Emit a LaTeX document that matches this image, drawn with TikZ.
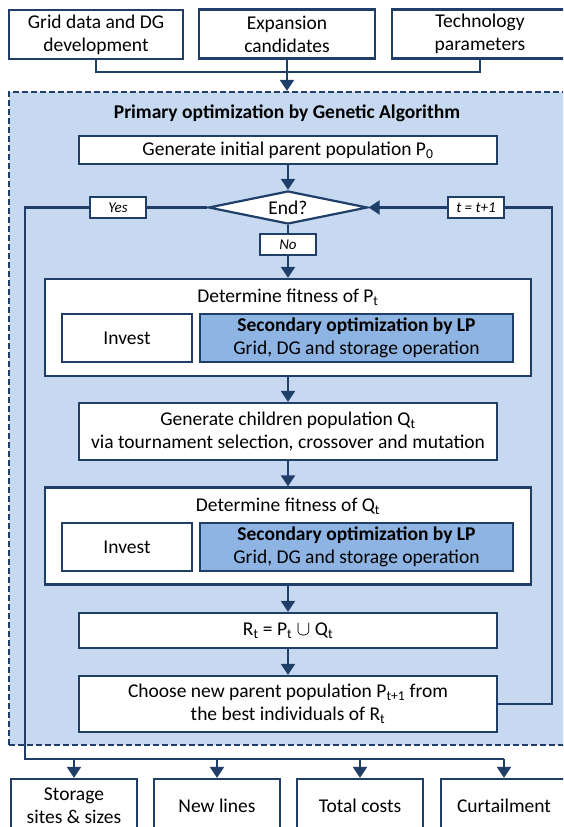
\documentclass[tikz,border=0pt]{standalone}
\usepackage{fontspec}
\setmainfont{Carlito}
\usetikzlibrary{arrows.meta,shapes.geometric}
\definecolor{dblue}{HTML}{1F3F68}
\definecolor{lblue}{HTML}{C6D9F1}
\definecolor{mblue}{HTML}{8DB4E2}
\begin{document}
\begin{tikzpicture}[x=1pt,y=-1pt,
    box/.style={draw=dblue,line width=2.2pt,fill=white,inner sep=0pt,align=center,
      font=\fontsize{19.5}{23}\selectfont},
    lbl/.style={draw=dblue,line width=2.2pt,fill=white,minimum width=56pt,
      minimum height=21pt,inner sep=0pt,font=\fontsize{15}{17}\selectfont\itshape},
    txt/.style={inner sep=0pt,font=\fontsize{19.5}{23}\selectfont},
    ln/.style={draw=dblue,line width=2.2pt},
    arr/.style={ln,-{Triangle[width=14pt,length=11pt]}}]
  \clip (0,0) rectangle (563,827);
  % inputs
  \node[box,minimum width=174pt,minimum height=49pt] (grid) at (96,34.5) {Grid data and DG\\development};
  \node[box,minimum width=176pt,minimum height=49pt] (cand) at (287,34) {Expansion\\candidates};
  \node[box,minimum width=176pt,minimum height=49pt] (tech) at (480,34) {Technology\\parameters};
  % genetic algorithm frame
  \node[draw=dblue,line width=2.2pt,dash pattern=on 6pt off 3pt,fill=lblue,
    minimum width=556pt,minimum height=653pt,inner sep=0pt] (ga) at (287,418.5) {};
  \node[txt,font=\fontsize{19.5}{23}\selectfont\bfseries] (title) at (287,113) {Primary optimization by Genetic Algorithm};
  \node[box,minimum width=418pt,minimum height=28pt] (init) at (288,150) {Generate initial parent population P\textsubscript{0}};
  \node[draw=dblue,line width=2.2pt,fill=white,diamond,aspect=4.8,inner sep=0pt,
    minimum width=159pt,minimum height=33pt,font=\fontsize{19.5}{23}\selectfont] (end) at (288,207.5) {End?};
  \node[lbl] (yes) at (118,207.5) {Yes};
  \node[lbl] (inc) at (476,207.5) {t = t+1};
  \node[lbl] (no) at (288,244.5) {No};
  % fitness of P
  \node[box,minimum width=486pt,minimum height=97pt] (fitp) at (288,327.5) {};
  \node[txt] (fitpt) at (288,297) {Determine fitness of P\textsubscript{t}};
  \node[box,minimum width=130pt,minimum height=48pt] (invp) at (127,338) {Invest};
  \node[box,fill=mblue,minimum width=313pt,minimum height=48pt] (lpp) at (356.5,338)
    {\textbf{Secondary optimization by LP}\\Grid, DG and storage operation};
  \node[box,minimum width=418pt,minimum height=57pt] (child) at (288,431.5)
    {Generate children population Q\textsubscript{t}\\via tournament selection, crossover and mutation};
  % fitness of Q
  \node[box,minimum width=486pt,minimum height=97pt] (fitq) at (288,536) {};
  \node[txt] (fitqt) at (288,506) {Determine fitness of Q\textsubscript{t}};
  \node[box,minimum width=130pt,minimum height=48pt] (invq) at (127,547) {Invest};
  \node[box,fill=mblue,minimum width=313pt,minimum height=48pt] (lpq) at (356.5,547)
    {\textbf{Secondary optimization by LP}\\Grid, DG and storage operation};
  \node[box,minimum width=418pt,minimum height=35pt] (union) at (288,630.5)
    {R\textsubscript{t} = P\textsubscript{t} $\cup$ Q\textsubscript{t}};
  \node[box,minimum width=418pt,minimum height=56pt] (choose) at (288,704)
    {Choose new parent population P\textsubscript{t+1} from\\the best individuals of R\textsubscript{t}};
  % outputs
  \node[box,minimum width=126pt,minimum height=54pt] (store) at (74,806) {Storage\\sites \& sizes};
  \node[box,minimum width=126pt,minimum height=54pt] (lines) at (217,806) {New lines};
  \node[box,minimum width=126pt,minimum height=54pt] (cost) at (360,806) {Total costs};
  \node[box,minimum width=126pt,minimum height=54pt] (curt) at (504,806) {Curtailment};
  \coordinate (bus) at (288,72);
  \coordinate (back) at (552,704);
  \coordinate (out) at (25,759);
  \draw[ln] (grid.south) |- (bus) -| (tech.south);
  \draw[arr] (cand.south) -- (ga.north);
  \draw[arr] (init) -- (end);
  \draw[ln] (end) -- (no);
  \draw[arr] (no) -- (fitp);
  \draw[arr] (fitp) -- (child);
  \draw[arr] (child) -- (fitq);
  \draw[arr] (fitq) -- (union);
  \draw[arr] (union) -- (choose);
  \draw[ln] (choose.east) -- (back) |- (inc.east);
  \draw[arr] (inc) -- (end.east);
  \draw[ln] (end.west) -- (yes);
  \draw[ln] (yes.west) -| (out) -- (curt.north |- out);
  \foreach \b in {store,lines,cost,curt}
    \draw[arr] (\b.north |- out) -- (\b.north);
\end{tikzpicture}
\end{document}
